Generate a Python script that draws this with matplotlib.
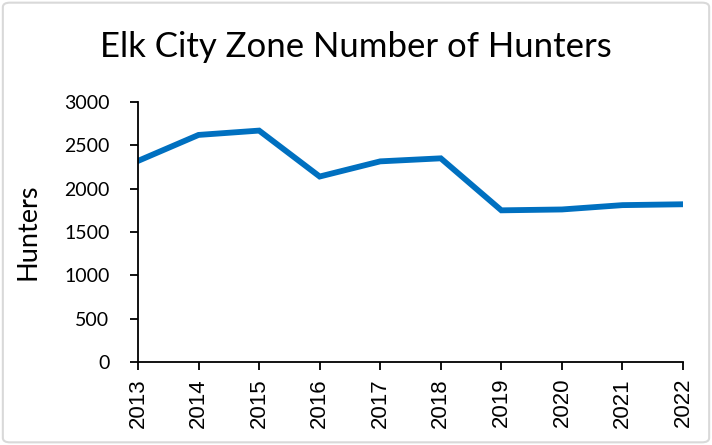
import matplotlib.pyplot as plt
from matplotlib.patches import FancyBboxPatch

years = ["2013", "2014", "2015", "2016", "2017", "2018", "2019", "2020", "2021", "2022"]
hunters = [2320, 2620, 2670, 2140, 2315, 2350, 1750, 1760, 1810, 1820]

fig = plt.figure(figsize=(7.12, 4.45), dpi=100)
ax = fig.add_axes([0.1938, 0.1865, 0.7655, 0.5843])

# outer chart frame
frame = FancyBboxPatch((0.004, 0.006), 0.992, 0.988, boxstyle="round,pad=0,rounding_size=0.01",
                       transform=fig.transFigure, fill=False, edgecolor="#d9d9d9", linewidth=1.5)
fig.patches.append(frame)

ax.plot(range(len(years)), hunters, color="#0070c0", linewidth=4.2, solid_joinstyle="miter")

ax.set_xlim(0, len(years) - 1)
ax.set_ylim(0, 3000)
ax.set_yticks(range(0, 3001, 500))
ax.set_xticks(range(len(years)))
ax.set_xticklabels(years, rotation=90, fontsize=16, family="Liberation Sans")
for lbl in ax.get_yticklabels():
    lbl.set_family("Lato")
    lbl.set_fontsize(14)

ax.spines["top"].set_visible(False)
ax.spines["right"].set_visible(False)
ax.spines["left"].set_linewidth(1.3)
ax.spines["bottom"].set_linewidth(1.3)
ax.tick_params(axis="both", direction="out", length=5.5, width=1.3)
ax.tick_params(axis="y", pad=15)
ax.tick_params(axis="x", pad=6)

ax.set_ylabel("Hunters", family="Lato", fontsize=19.5)
ax.yaxis.set_label_coords(-0.178, 0.5)
fig.text(0.5, 0.895, "Elk City Zone Number of Hunters", ha="center", va="center",
         family="Lato", fontsize=25)

fig.savefig("out.png", dpi=100)
